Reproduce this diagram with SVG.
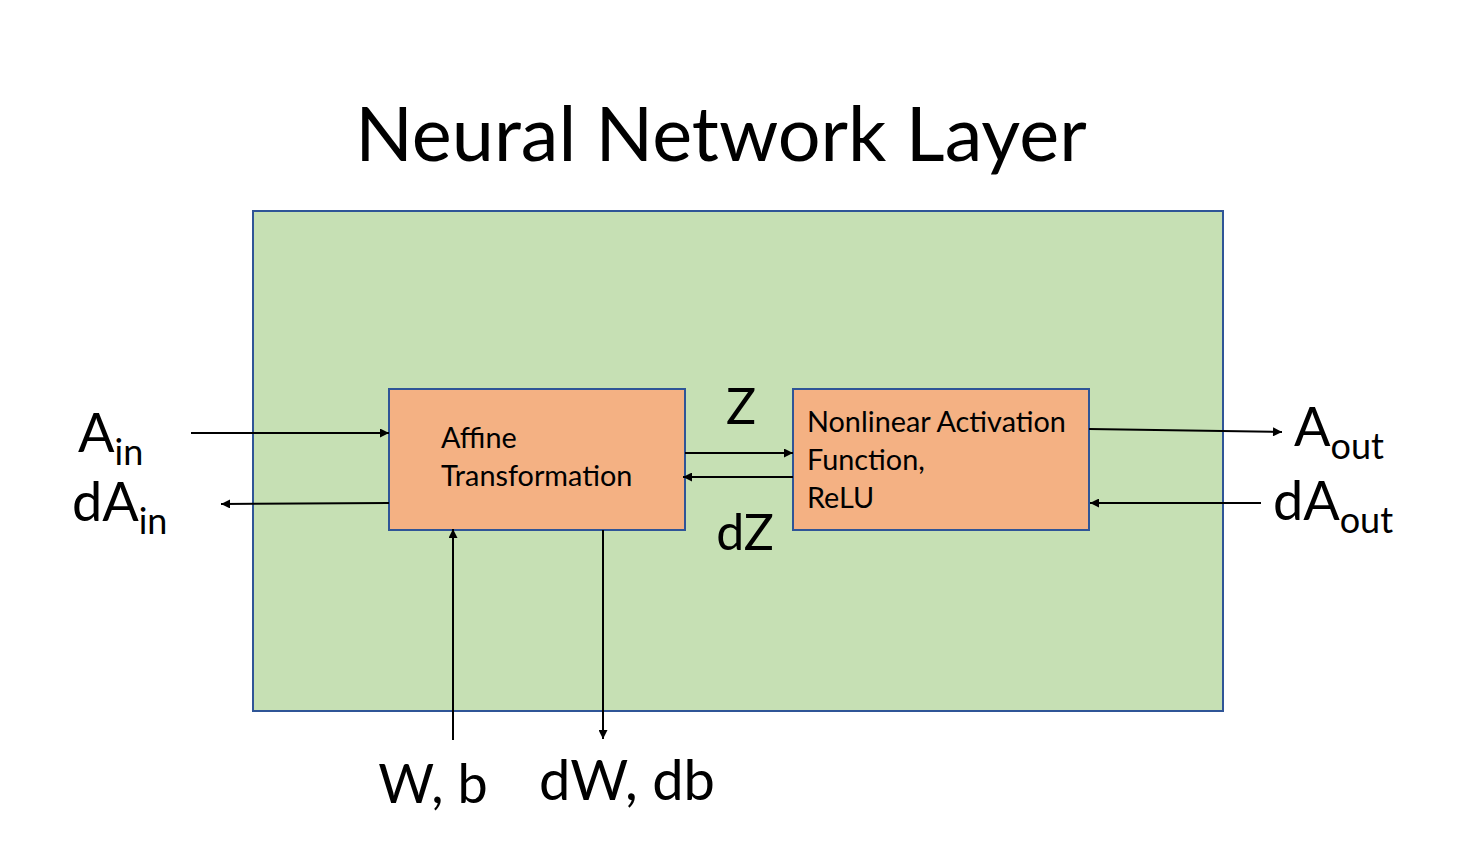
<svg xmlns="http://www.w3.org/2000/svg" width="1482" height="854" viewBox="0 0 1482 854">
<defs>
<marker id="ah" viewBox="0 0 10 10" refX="10" refY="5" markerWidth="11" markerHeight="9" markerUnits="userSpaceOnUse" orient="auto">
<path d="M0,0 L10,5 L0,10 Z" fill="#000"/>
</marker>
</defs>
<style>
.t{font-family:Lato,"Open Sans","Liberation Sans",sans-serif;fill:#000}
.box{fill:#F4B183;stroke:#2F5597;stroke-width:2}
.c{stroke:#000;stroke-width:2;fill:none;marker-end:url(#ah)}
</style>
<rect width="1482" height="854" fill="#fff"/>
<text class="t" x="721" y="161" font-size="75.6" text-anchor="middle">Neural Network Layer</text>
<g id="layer">
<rect x="253" y="211" width="970" height="500" fill="#C6E0B4" stroke="#2F5597" stroke-width="2"/>
</g>
<g id="affine">
<rect class="box" x="389" y="389" width="296" height="141"/>
<text class="t" x="441" y="448" font-size="28.8">Affine</text>
<text class="t" x="441" y="486" font-size="28.8">Transformation</text>
</g>
<g id="activation">
<rect class="box" x="793" y="389" width="296" height="141"/>
<text class="t" x="807" y="432" font-size="28.8">Nonlinear Activation</text>
<text class="t" x="807" y="470" font-size="28.8">Function,</text>
<text class="t" x="807" y="508" font-size="28.8">ReLU</text>
</g>
<g id="connectors">
<line class="c" x1="191" y1="433" x2="389" y2="433"/>
<line class="c" x1="389" y1="503" x2="221" y2="504"/>
<line class="c" x1="685" y1="453" x2="793" y2="453"/>
<line class="c" x1="793" y1="477" x2="683" y2="477"/>
<line class="c" x1="1089" y1="429" x2="1282" y2="432"/>
<line class="c" x1="1261" y1="503" x2="1090" y2="503"/>
<line class="c" x1="453" y1="740" x2="453" y2="529"/>
<line class="c" x1="603" y1="530" x2="603" y2="739"/>
</g>
<g id="labels">
<text class="t" x="78" y="452" font-size="54">A<tspan font-size="36" dy="13">in</tspan></text>
<text class="t" x="72" y="521" font-size="54">dA<tspan font-size="36" dy="13">in</tspan></text>
<text class="t" x="1294" y="446" font-size="54">A<tspan font-size="36" dy="13">out</tspan></text>
<text class="t" x="1273" y="520" font-size="54">dA<tspan font-size="36" dy="13">out</tspan></text>
<text class="t" x="741" y="424" font-size="50" text-anchor="middle">Z</text>
<text class="t" x="745" y="550" font-size="50" text-anchor="middle">dZ</text>
<text class="t" x="433" y="803" font-size="54" text-anchor="middle">W, b</text>
<text class="t" x="627" y="800" font-size="56" text-anchor="middle">dW, db</text>
</g>
</svg>
